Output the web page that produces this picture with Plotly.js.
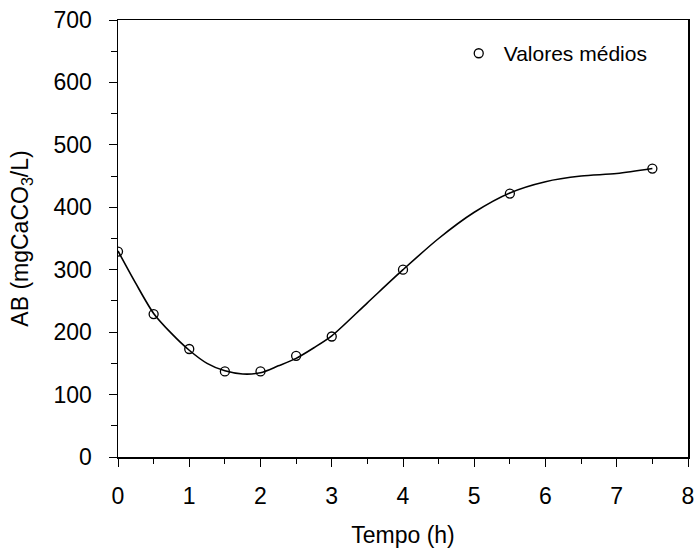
<!DOCTYPE html>
<html>
<head>
<meta charset="utf-8">
<script src="https://cdn.plot.ly/plotly-3.0.1.min.js"></script>
<style>html,body{margin:0;padding:0;background:#fff;}#chart{width:697px;height:554px;}</style>
</head>
<body>
<div id="chart"></div>
<script>
// Measured mean values
const tempo = [0, 0.5, 1, 1.5, 2, 2.5, 3, 4, 5.5, 7.5];
const valoresMedios = [329, 229, 173, 137, 137, 162, 193, 300, 422, 462];

// Fitted curve
const curveTempo = [0, 0.25, 0.5, 0.75, 1, 1.25, 1.5, 1.75, 2, 2.25, 2.5, 2.75, 3, 3.5, 4, 4.5, 5, 5.5, 6, 6.5, 7, 7.5];
const curveAB = [330, 278, 230, 198, 171, 150, 138, 133, 135, 146, 158, 175, 194, 247, 300, 350, 392, 423, 441, 450, 454, 462];

const xTicks = [0, 1, 2, 3, 4, 5, 6, 7, 8];
const yTicks = [0, 100, 200, 300, 400, 500, 600, 700];

const fontFam = 'Liberation Sans, Arial, Helvetica, sans-serif';

const traces = [
  {
    x: curveTempo, y: curveAB, mode: 'lines', type: 'scatter',
    line: {color: '#000', width: 1.6, shape: 'spline', smoothing: 0.8},
    showlegend: false, hoverinfo: 'skip'
  },
  {
    x: tempo, y: valoresMedios, mode: 'markers', type: 'scatter',
    name: 'Valores médios',
    marker: {symbol: 'circle-open', size: 9, color: '#000', line: {width: 1.3, color: '#000'}},
    showlegend: true
  }
];

const layout = {
  width: 697, height: 554,
  margin: {l: 118, r: 9, t: 20, b: 97, pad: 0},
  paper_bgcolor: '#fff', plot_bgcolor: '#fff',
  font: {family: fontFam, color: '#000', size: 23},
  showlegend: true,
  legend: {
    x: 0.589, y: 0.97, xanchor: 'left', yanchor: 'top',
    itemwidth: 40,
    bgcolor: 'rgba(0,0,0,0)', borderwidth: 0,
    font: {family: fontFam, size: 21, color: '#000'}
  },
  xaxis: {
    range: [0, 8], tickvals: xTicks, ticktext: xTicks.map(String),
    ticks: 'outside', ticklen: 8, tickwidth: 1, tickcolor: '#000',
    showline: true, linecolor: '#000', linewidth: 1.5, mirror: true,
    showgrid: false, zeroline: false,
    tickfont: {size: 23}, ticklabelstandoff: 10,
    minor: {dtick: 0.5, tick0: 0, ticks: 'outside', ticklen: 5, tickwidth: 1, tickcolor: '#000', showgrid: false},
    title: {text: 'Tempo (h)', font: {size: 23}, standoff: 19}
  },
  yaxis: {
    range: [0, 700], tickvals: yTicks, ticktext: yTicks.map(String),
    ticks: 'outside', ticklen: 8, tickwidth: 1, tickcolor: '#000',
    showline: true, linecolor: '#000', linewidth: 1.5, mirror: true,
    showgrid: false, zeroline: false,
    tickfont: {size: 23}, ticklabelstandoff: 12,
    minor: {dtick: 50, tick0: 0, ticks: 'outside', ticklen: 6, tickwidth: 1, tickcolor: '#000', showgrid: false},
    title: {text: 'AB (mgCaCO<sub>3</sub>/L)', font: {size: 23}, standoff: 18}
  }
};

Plotly.newPlot('chart', traces, layout, {displayModeBar: false, staticPlot: true});
</script>
</body>
</html>
